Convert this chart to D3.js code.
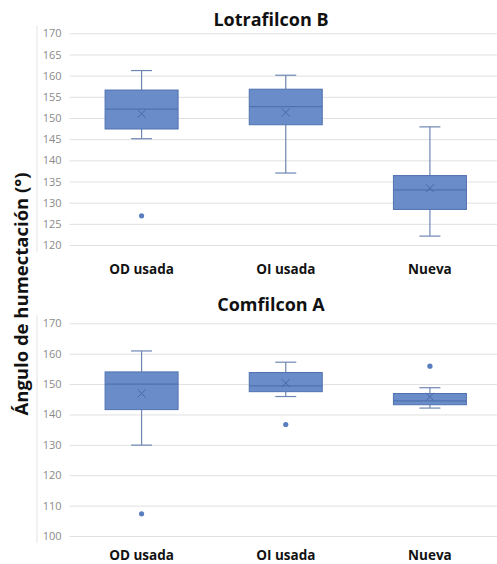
<!DOCTYPE html>
<html>
<head>
<meta charset="utf-8">
<script src="https://cdn.jsdelivr.net/npm/d3@7"></script>
<style>
  body { margin: 0; background: #fff; }
  svg { display: block; }
</style>
</head>
<body>
<script>
// data
var categories = ["OD usada", "OI usada", "Nueva"];

// Lotrafilcon B
var lotraMin  = [145.1, 137.0, 122.1];
var lotraQ1   = [147.4, 148.4, 128.4];
var lotraMed  = [152.1, 152.7, 133.0];
var lotraQ3   = [156.6, 156.8, 136.4];
var lotraMax  = [161.2, 160.1, 147.9];
var lotraMean = [151.0, 151.3, 133.4];
var lotraOut  = [[126.9], [], []];
var lotraTicks = [120, 125, 130, 135, 140, 145, 150, 155, 160, 165, 170];

// Comfilcon A
var comfMin  = [129.9, 145.9, 142.1];
var comfQ1   = [141.6, 147.5, 143.2];
var comfMed  = [150.0, 149.4, 144.5];
var comfQ3   = [154.0, 153.8, 146.9];
var comfMax  = [160.9, 157.2, 148.8];
var comfMean = [146.9, 150.3, 145.8];
var comfOut  = [[107.3], [136.7], [155.9]];
var comfTicks = [100, 110, 120, 130, 140, 150, 160, 170];

var W = 497, H = 564;
var svg = d3.select("body").append("svg")
    .attr("width", W).attr("height", H);

var x = d3.scaleBand().domain(categories).range([69.5, 502]).padding(0);
var boxW = 73, capW = 21;
var fill = "#6a8cc8", stroke = "#4f72b0", whisk = "#6f86b3";

function drawPanel(title, titleY, top, bottom, ticks, mins, q1s, meds, q3s, maxs, means, outs, labelY) {
    var y = d3.scaleLinear().domain([ticks[0], ticks[ticks.length - 1]]).range([bottom, top]);
    var g = svg.append("g");

    // faint chart-area border on the left
    g.append("line")
        .attr("x1", 37).attr("x2", 37)
        .attr("y1", top - 8).attr("y2", bottom + 7)
        .attr("stroke", "#e3e3e3").attr("stroke-width", 1);

    // grid + tick labels
    var yAxis = d3.axisLeft(y).tickValues(ticks).tickSize(-(W - 69.5)).tickFormat(d3.format("d"));
    var ax = g.append("g").attr("transform", "translate(69.5,0)").call(yAxis);
    ax.select(".domain").remove();
    ax.selectAll(".tick line").attr("stroke", "#e0e0e0").attr("stroke-width", 1);
    ax.selectAll(".tick text")
        .attr("x", -8)
        .attr("fill", "#8a8a8a")
        .style("font-family", "'Open Sans', sans-serif")
        .style("font-size", "11px");

    categories.forEach(function (c, i) {
        var cx = x(c) + x.bandwidth() / 2;
        // whiskers
        g.append("line").attr("x1", cx).attr("x2", cx)
            .attr("y1", y(maxs[i])).attr("y2", y(q3s[i]))
            .attr("stroke", whisk).attr("stroke-width", 1.2);
        g.append("line").attr("x1", cx).attr("x2", cx)
            .attr("y1", y(q1s[i])).attr("y2", y(mins[i]))
            .attr("stroke", whisk).attr("stroke-width", 1.2);
        [maxs[i], mins[i]].forEach(function (v) {
            g.append("line").attr("x1", cx - capW / 2).attr("x2", cx + capW / 2)
                .attr("y1", y(v)).attr("y2", y(v))
                .attr("stroke", whisk).attr("stroke-width", 1.2);
        });
        // box
        g.append("rect")
            .attr("x", cx - boxW / 2).attr("width", boxW)
            .attr("y", y(q3s[i])).attr("height", y(q1s[i]) - y(q3s[i]))
            .attr("fill", fill).attr("stroke", stroke).attr("stroke-width", 1);
        // median
        g.append("line").attr("x1", cx - boxW / 2).attr("x2", cx + boxW / 2)
            .attr("y1", y(meds[i])).attr("y2", y(meds[i]))
            .attr("stroke", stroke).attr("stroke-width", 1.2);
        // mean marker
        var my = y(means[i]), s = 4;
        g.append("path")
            .attr("d", "M" + (cx - s) + "," + (my - s) + "L" + (cx + s) + "," + (my + s) +
                       "M" + (cx - s) + "," + (my + s) + "L" + (cx + s) + "," + (my - s))
            .attr("stroke", "#4a69a6").attr("stroke-width", 1).attr("fill", "none");
        // outliers
        outs[i].forEach(function (v) {
            g.append("circle").attr("cx", cx).attr("cy", y(v)).attr("r", 2.6)
                .attr("fill", "#5a7dbf");
        });
        // category label
        g.append("text")
            .attr("x", cx).attr("y", labelY)
            .attr("text-anchor", "middle")
            .attr("fill", "#111")
            .style("font-family", "'Open Sans', sans-serif")
            .style("font-weight", "bold")
            .style("font-size", "13.5px")
            .text(c);
    });

    g.append("text")
        .attr("x", 271).attr("y", titleY)
        .attr("text-anchor", "middle")
        .attr("fill", "#111")
        .style("font-family", "'Open Sans', sans-serif")
        .style("font-weight", "bold")
        .style("font-size", "18px")
        .text(title);
}

drawPanel("Lotrafilcon B", 26, 33.3, 245, lotraTicks,
    lotraMin, lotraQ1, lotraMed, lotraQ3, lotraMax, lotraMean, lotraOut, 274);
drawPanel("Comfilcon A", 311, 323.3, 536, comfTicks,
    comfMin, comfQ1, comfMed, comfQ3, comfMax, comfMean, comfOut, 560);

// shared y axis title
svg.append("text")
    .attr("transform", "translate(28,294) rotate(-90)")
    .attr("text-anchor", "middle")
    .attr("fill", "#111")
    .style("font-family", "'Open Sans', sans-serif")
    .style("font-weight", "bold")
    .style("font-size", "18.5px")
    .text("Ángulo de humectación (°)");
</script>
</body>
</html>
